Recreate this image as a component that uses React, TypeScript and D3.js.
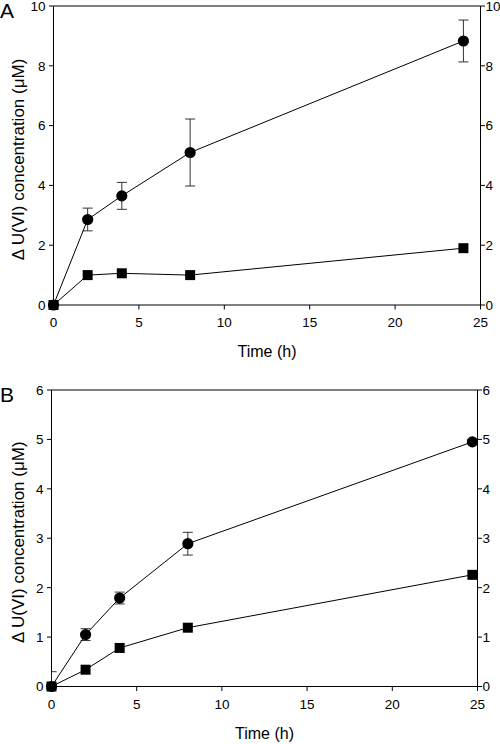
import React from "react";
import * as d3 from "d3";

// Panel A data
const timesA = [0, 2, 4, 8, 24];
const circlesA = [0, 2.86, 3.65, 5.1, 8.83];
const circlesErrA = [0, 0.38, 0.45, 1.12, 0.7];
const squaresA = [0, 1.0, 1.06, 1.0, 1.9];
const yTicksA = [0, 2, 4, 6, 8, 10];

// Panel B data
const timesB = [0, 2, 4, 8, 24.7];
const circlesB = [0, 1.05, 1.79, 2.89, 4.95];
const circlesErrB = [0.3, 0.12, 0.12, 0.23, 0.05];
const squaresB = [0, 0.34, 0.78, 1.19, 2.26];
const yTicksB = [0, 1, 2, 3, 4, 5, 6];

const xTicks = [0, 5, 10, 15, 20, 25];

const FONT = "'Liberation Sans', Arial, Helvetica, sans-serif";

type PanelProps = {
  id: string;
  letter: string;
  left: number;
  right: number;
  top: number;
  bottom: number;
  yMax: number;
  yTicks: number[];
  times: number[];
  circles: number[];
  circlesErr: number[];
  squares: number[];
};

function Panel(p: PanelProps) {
  const x = d3.scaleLinear().domain([0, 25]).range([p.left, p.right]);
  const y = d3.scaleLinear().domain([0, p.yMax]).range([p.bottom, p.top]);
  const line = d3
    .line<[number, number]>()
    .x((d) => x(d[0]))
    .y((d) => y(d[1]));
  const cPts: [number, number][] = p.times.map((t, i) => [t, p.circles[i]]);
  const sPts: [number, number][] = p.times.map((t, i) => [t, p.squares[i]]);
  const tick = 4.5;
  const cap = 5;
  const r = 5.6;
  const sq = 10;
  const yLabelY = (p.top + p.bottom) / 2 + 4;
  return (
    <g>
      <defs>
        <clipPath id={`clip-${p.id}`}>
          <rect x={p.left} y={p.top - 20} width={p.right - p.left} height={p.bottom - p.top + 20} />
        </clipPath>
      </defs>
      {/* frame */}
      <line x1={p.left} x2={p.right} y1={p.top} y2={p.top} stroke="#000" strokeWidth={1} />
      <line x1={p.left} x2={p.right} y1={p.bottom} y2={p.bottom} stroke="#000" strokeWidth={1} />
      <line x1={p.left} x2={p.left} y1={p.top} y2={p.bottom} stroke="#000" strokeWidth={1} />
      <line x1={p.right} x2={p.right} y1={p.top} y2={p.bottom} stroke="#000" strokeWidth={1} />
      {/* x ticks */}
      {xTicks.map((t) => (
        <g key={`x${t}`}>
          <line x1={x(t)} x2={x(t)} y1={p.bottom} y2={p.bottom + tick} stroke="#000" />
          <text
            x={x(t)}
            y={p.bottom + 22}
            textAnchor="middle"
            fontSize={13.5}
            fontFamily={FONT}
            fill="#000"
          >
            {t}
          </text>
        </g>
      ))}
      {/* y ticks */}
      {p.yTicks.map((v) => (
        <g key={`y${v}`}>
          <line x1={p.left - tick} x2={p.left} y1={y(v)} y2={y(v)} stroke="#000" />
          <line x1={p.right} x2={p.right + tick} y1={y(v)} y2={y(v)} stroke="#000" />
          <text
            x={p.left - 8}
            y={y(v)}
            dy="0.36em"
            textAnchor="end"
            fontSize={13.5}
            fontFamily={FONT}
            fill="#000"
          >
            {v}
          </text>
          <text
            x={p.right + 5}
            y={y(v)}
            dy="0.36em"
            textAnchor="start"
            fontSize={13.5}
            fontFamily={FONT}
            fill="#000"
          >
            {v}
          </text>
        </g>
      ))}
      {/* axis titles */}
      <text
        x={(p.left + p.right) / 2}
        y={p.bottom + 52}
        textAnchor="middle"
        fontSize={16}
        fontFamily={FONT}
        fill="#000"
      >
        Time (h)
      </text>
      <text
        transform={`translate(24,${yLabelY}) rotate(-90)`}
        textAnchor="middle"
        fontSize={17}
        fontFamily={FONT}
        fill="#000"
      >
        Δ U(VI) concentration (μM)
      </text>
      <text x={0} y={p.top + 12} fontSize={21} fontFamily={FONT} fill="#000">
        {p.letter}
      </text>
      {/* error bars */}
      <g clipPath={`url(#clip-${p.id})`}>
        {p.times.map((t, i) =>
          p.circlesErr[i] > 0 ? (
            <g key={`e${i}`} stroke="#333" strokeWidth={1}>
              <line
                x1={x(t)}
                x2={x(t)}
                y1={y(p.circles[i] + p.circlesErr[i])}
                y2={y(p.circles[i] - p.circlesErr[i])}
              />
              <line
                x1={x(t) - cap}
                x2={x(t) + cap}
                y1={y(p.circles[i] + p.circlesErr[i])}
                y2={y(p.circles[i] + p.circlesErr[i])}
              />
              <line
                x1={x(t) - cap}
                x2={x(t) + cap}
                y1={y(p.circles[i] - p.circlesErr[i])}
                y2={y(p.circles[i] - p.circlesErr[i])}
              />
            </g>
          ) : null
        )}
      </g>
      {/* lines */}
      <path d={line(cPts) || ""} fill="none" stroke="#000" strokeWidth={1} />
      <path d={line(sPts) || ""} fill="none" stroke="#000" strokeWidth={1} />
      {/* markers */}
      {cPts.map((d, i) => (
        <circle key={`c${i}`} cx={x(d[0])} cy={y(d[1])} r={r} fill="#000" />
      ))}
      {sPts.map((d, i) => (
        <rect
          key={`s${i}`}
          x={x(d[0]) - sq / 2}
          y={y(d[1]) - sq / 2}
          width={sq}
          height={sq}
          fill="#000"
        />
      ))}
    </g>
  );
}

export default function App() {
  return (
    <svg
      width={500}
      height={744}
      style={{ position: "absolute", left: 0, top: 0, background: "#fff" }}
    >
      <rect x={0} y={0} width={500} height={744} fill="#fff" />
      <Panel
        id="A"
        letter="A"
        left={53.5}
        right={480.5}
        top={6}
        bottom={305}
        yMax={10}
        yTicks={yTicksA}
        times={timesA}
        circles={circlesA}
        circlesErr={circlesErrA}
        squares={squaresA}
      />
      <Panel
        id="B"
        letter="B"
        left={51.5}
        right={477.5}
        top={390}
        bottom={686.5}
        yMax={6}
        yTicks={yTicksB}
        times={timesB}
        circles={circlesB}
        circlesErr={circlesErrB}
        squares={squaresB}
      />
    </svg>
  );
}
